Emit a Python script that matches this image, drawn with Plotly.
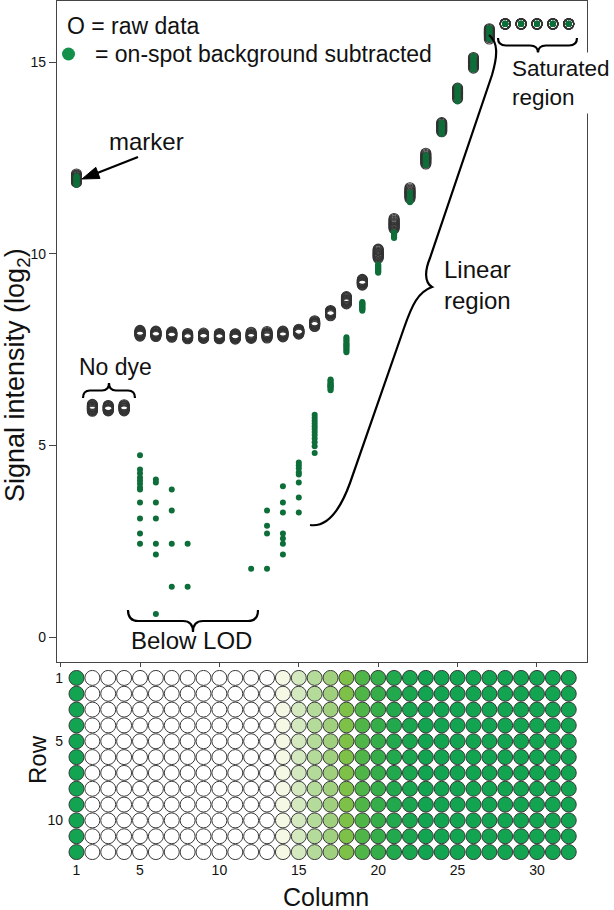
import plotly.graph_objects as go

W, H = 614, 910
FONT = "Liberation Sans, Arial, Helvetica, sans-serif"

columns = list(range(1, 33))
rows = list(range(1, 13))

# raw spot intensity (log2), one list of 12 replicate rows per column
raw_marker = [12.08, 12.05, 12.03, 12.01, 11.99, 11.97, 11.96, 11.94, 11.92, 11.9, 11.88, 11.86]
raw_no_dye = [
    [6.07, 6.05, 6.03, 6.01, 6.0, 5.99, 5.97, 5.96, 5.94, 5.93, 5.91, 5.89],
    [6.04, 6.03, 6.01, 6.0, 5.99, 5.98, 5.96, 5.95, 5.94, 5.92, 5.91, 5.9],
    [6.06, 6.04, 6.02, 6.01, 6.0, 5.98, 5.97, 5.96, 5.95, 5.93, 5.92, 5.9],
]
raw_below_lod = [  # columns 5-14
    [8.0, 7.98, 7.96, 7.95, 7.94, 7.93, 7.92, 7.91, 7.9, 7.89, 7.87, 7.85],
    [7.98, 7.96, 7.95, 7.94, 7.92, 7.91, 7.9, 7.89, 7.88, 7.87, 7.86, 7.84],
    [7.96, 7.94, 7.93, 7.92, 7.91, 7.9, 7.89, 7.88, 7.87, 7.85, 7.84, 7.82],
    [7.92, 7.9, 7.88, 7.87, 7.86, 7.85, 7.84, 7.83, 7.82, 7.81, 7.8, 7.78],
    [7.93, 7.91, 7.89, 7.88, 7.87, 7.86, 7.85, 7.84, 7.83, 7.82, 7.8, 7.79],
    [7.92, 7.9, 7.89, 7.87, 7.86, 7.85, 7.84, 7.83, 7.82, 7.81, 7.79, 7.78],
    [7.91, 7.9, 7.88, 7.87, 7.86, 7.85, 7.84, 7.83, 7.81, 7.8, 7.79, 7.77],
    [7.95, 7.93, 7.91, 7.89, 7.88, 7.87, 7.86, 7.85, 7.84, 7.82, 7.81, 7.79],
    [7.97, 7.94, 7.92, 7.91, 7.9, 7.89, 7.88, 7.87, 7.86, 7.84, 7.82, 7.8],
    [7.98, 7.96, 7.94, 7.93, 7.92, 7.91, 7.9, 7.89, 7.88, 7.87, 7.85, 7.83],
]
raw_linear = [  # columns 15-27
    [8.03, 8.01, 8.0, 7.99, 7.98, 7.97, 7.96, 7.95, 7.94, 7.93, 7.92, 7.9],
    [8.25, 8.23, 8.21, 8.2, 8.19, 8.18, 8.17, 8.16, 8.15, 8.14, 8.12, 8.1],
    [8.52, 8.5, 8.49, 8.48, 8.47, 8.46, 8.45, 8.44, 8.43, 8.42, 8.4, 8.38],
    [8.88, 8.86, 8.84, 8.82, 8.8, 8.79, 8.78, 8.76, 8.75, 8.73, 8.71, 8.69],
    [9.33, 9.31, 9.3, 9.28, 9.27, 9.26, 9.25, 9.24, 9.23, 9.21, 9.2, 9.18],
    [10.12, 10.1, 10.08, 10.05, 10.03, 10.01, 9.99, 9.97, 9.95, 9.93, 9.91, 9.88],
    [10.92, 10.89, 10.86, 10.84, 10.81, 10.79, 10.77, 10.75, 10.73, 10.7, 10.68, 10.65],
    [11.72, 11.69, 11.66, 11.63, 11.61, 11.59, 11.57, 11.55, 11.52, 11.5, 11.47, 11.44],
    [12.62, 12.59, 12.56, 12.53, 12.51, 12.49, 12.47, 12.45, 12.42, 12.4, 12.37, 12.34],
    [13.42, 13.4, 13.37, 13.35, 13.33, 13.31, 13.29, 13.27, 13.25, 13.23, 13.21, 13.18],
    [14.32, 14.29, 14.27, 14.24, 14.22, 14.2, 14.18, 14.16, 14.14, 14.11, 14.08, 14.05],
    [15.12, 15.09, 15.06, 15.03, 15.01, 14.99, 14.97, 14.95, 14.92, 14.9, 14.87, 14.84],
    [15.87, 15.85, 15.82, 15.8, 15.78, 15.76, 15.74, 15.72, 15.7, 15.67, 15.64, 15.6],
]
raw_saturated = [  # columns 28-32
    [16.0, 16.0, 16.0, 16.0, 16.0, 16.0, 15.99, 15.99, 15.99, 15.99, 15.99, 15.99],
    [16.0, 16.0, 16.0, 16.0, 16.0, 16.0, 15.99, 15.99, 15.99, 15.99, 15.99, 15.99],
    [16.0, 16.0, 16.0, 16.0, 16.0, 16.0, 15.99, 15.99, 15.99, 15.99, 15.99, 15.99],
    [16.0, 16.0, 16.0, 16.0, 16.0, 16.0, 15.99, 15.99, 15.99, 15.99, 15.99, 15.99],
    [16.0, 16.0, 16.0, 16.0, 16.0, 16.0, 15.99, 15.99, 15.99, 15.99, 15.99, 15.99],
]

# on-spot background subtracted (log2); non-positive values are not drawn
bg_marker = [12.02, 12.0, 11.98, 11.96, 11.94, 11.92, 11.9, 11.88, 11.86, 11.84, 11.82, 11.8]
bg_no_dye = [[], [], []]
bg_below_lod = [  # columns 5-14
    [4.74, 4.37, 4.27, 4.16, 4.08, 4.0, 3.9, 3.85, 3.51, 3.09, 2.7, 2.43],
    [4.11, 4.03, 3.51, 3.09, 2.43, 2.15, 0.6],
    [3.85, 3.3, 2.43, 1.31],
    [2.43, 1.31],
    [],
    [],
    [],
    [1.78],
    [3.3, 2.9, 2.7, 1.78],
    [3.93, 3.51, 3.25, 2.7, 2.57, 2.43, 2.15],
]
bg_linear = [  # columns 15-27
    [4.55, 4.48, 4.4, 4.3, 4.24, 4.03, 3.64, 3.25],
    [5.8, 5.72, 5.64, 5.57, 5.5, 5.43, 5.35, 5.27, 5.18, 5.08, 4.98, 4.8],
    [6.72, 6.69, 6.66, 6.63, 6.6, 6.58, 6.56, 6.54, 6.52, 6.5, 6.47, 6.44],
    [7.82, 7.78, 7.74, 7.7, 7.66, 7.63, 7.6, 7.57, 7.54, 7.5, 7.47, 7.43],
    [8.74, 8.72, 8.7, 8.68, 8.66, 8.64, 8.62, 8.6, 8.58, 8.56, 8.54, 8.51],
    [9.72, 9.7, 9.68, 9.66, 9.64, 9.62, 9.6, 9.58, 9.56, 9.54, 9.52, 9.5],
    [10.56, 10.55, 10.53, 10.52, 10.51, 10.5, 10.48, 10.47, 10.46, 10.45, 10.43, 10.41],
    [11.6, 11.57, 11.55, 11.53, 11.5, 11.48, 11.46, 11.44, 11.42, 11.4, 11.37, 11.34],
    [12.56, 12.54, 12.51, 12.49, 12.47, 12.45, 12.43, 12.41, 12.39, 12.37, 12.34, 12.31],
    [13.42, 13.39, 13.36, 13.33, 13.31, 13.29, 13.26, 13.24, 13.22, 13.19, 13.16, 13.12],
    [14.37, 14.33, 14.29, 14.25, 14.22, 14.19, 14.16, 14.13, 14.1, 14.06, 14.02, 13.97],
    [15.16, 15.12, 15.09, 15.06, 15.03, 15.0, 14.97, 14.94, 14.91, 14.88, 14.84, 14.8],
    [15.89, 15.86, 15.84, 15.81, 15.78, 15.76, 15.73, 15.71, 15.68, 15.66, 15.63, 15.6],
]
bg_saturated = [
    [16.0, 16.0, 16.0, 16.0, 16.0, 16.0, 15.99, 15.99, 15.99, 15.99, 15.99, 15.99],
    [16.0, 16.0, 16.0, 16.0, 16.0, 16.0, 15.99, 15.99, 15.99, 15.99, 15.99, 15.99],
    [16.0, 16.0, 16.0, 16.0, 16.0, 16.0, 15.99, 15.99, 15.99, 15.99, 15.99, 15.99],
    [16.0, 16.0, 16.0, 16.0, 16.0, 16.0, 15.99, 15.99, 15.99, 15.99, 15.99, 15.99],
    [16.0, 16.0, 16.0, 16.0, 16.0, 16.0, 15.99, 15.99, 15.99, 15.99, 15.99, 15.99],
]

# relative spot colour on the array image, per column (0 = blank, 1 = full green)
spot_level = [1.0, 0, 0, 0, 0, 0, 0, 0, 0, 0, 0, 0, 0, 0.06, 0.2, 0.32,
              0.42, 0.55, 0.7, 0.8, 0.9, 0.96, 1.0, 1.0, 1.0, 1.0, 1.0, 1.0,
              1.0, 1.0, 1.0, 1.0]

spot_scale = [[0, '#ffffff'], [0.06, '#f4f8e4'], [0.2, '#d4e9c0'], [0.32, '#b5db9b'],
              [0.42, '#a0d07e'], [0.55, '#7dc148'], [0.7, '#4fb548'], [0.8, '#35ae4a'],
              [0.9, '#22a84d'], [1.0, '#13a451']]

raw_by_col = [raw_marker] + raw_no_dye + raw_below_lod + raw_linear + raw_saturated
bg_by_col = [bg_marker] + bg_no_dye + bg_below_lod + bg_linear + bg_saturated


def flat(per_col):
    xs, ys = [], []
    for c, vals in zip(columns, per_col):
        xs += [c] * len(vals)
        ys += vals
    return xs, ys


def X(p):  # pixel -> paper
    return p / W


def Y(p):
    return 1 - p / H


def path(points, close=False):
    # points: list of (cmd, [(x, y), ...]) in pixels
    s = ''
    for cmd, pts in points:
        s += cmd + ' ' + ' '.join(f'{X(x):.5f},{Y(y):.5f}' for x, y in pts) + ' '
    return s.strip() + (' Z' if close else '')


def hbrace(x0, x1, y_end, y_tip, xm, r):
    mid = y_end + (y_tip - y_end) * 0.5
    return path([('M', [(x0, y_end)]), ('Q', [(x0, mid), (x0 + r, mid)]),
                 ('L', [(xm - r, mid)]), ('Q', [(xm, mid), (xm, y_tip)]),
                 ('Q', [(xm, mid), (xm + r, mid)]), ('L', [(x1 - r, mid)]),
                 ('Q', [(x1, mid), (x1, y_end)])])


fig = go.Figure()

rx, ry = flat(raw_by_col)
fig.add_trace(go.Scatter(x=rx, y=ry, mode='markers', xaxis='x', yaxis='y',
                         marker=dict(symbol='circle-open', size=10, color='#333333',
                                     line=dict(width=1.1, color='#333333'))))
gx, gy = flat(bg_by_col)
fig.add_trace(go.Scatter(x=gx, y=gy, mode='markers', xaxis='x', yaxis='y',
                         marker=dict(size=6, color='#0e6e39')))

sx, sy, sc = [], [], []
for r in rows:
    for c in columns:
        sx.append(c)
        sy.append(r)
        sc.append(spot_level[c - 1])
fig.add_trace(go.Scatter(x=sx, y=sy, mode='markers', xaxis='x2', yaxis='y2',
                         marker=dict(size=15, color=sc, colorscale=spot_scale, cmin=0, cmax=1,
                                     line=dict(width=1, color='#3a3a3a'))))

line_col = '#444444'
fig.update_layout(
    width=W, height=H, margin=dict(l=0, r=0, t=0, b=0),
    paper_bgcolor='white', plot_bgcolor='white', showlegend=False,
    font=dict(family=FONT, color='#111111'),
    xaxis=dict(domain=[X(57), X(587)], range=[-0.227, 33.15], anchor='y',
               showline=True, mirror=True, linecolor=line_col, linewidth=1.3,
               ticks='outside', ticklen=4, tickcolor=line_col, tickvals=[0, 5, 10, 15, 20, 25, 30],
               showticklabels=False, showgrid=False, zeroline=False),
    yaxis=dict(domain=[Y(662), Y(1)], range=[-0.652, 16.593], anchor='x',
               showline=True, mirror=True, linecolor=line_col, linewidth=1.3,
               ticks='outside', ticklen=7, tickcolor=line_col, tickvals=[0, 5, 10, 15],
               tickfont=dict(size=14), showgrid=False, zeroline=False),
    xaxis2=dict(domain=[X(64), X(587)], range=[0.214, 33.15], anchor='y2',
                showline=False, ticks='', tickvals=[1, 5, 10, 15, 20, 25, 30],
                tickfont=dict(size=14), showgrid=False, zeroline=False),
    yaxis2=dict(domain=[Y(860), Y(670)], range=[12.5, 0.5], anchor='x2',
                showline=False, ticks='', tickvals=[1, 5, 10],
                tickfont=dict(size=14), showgrid=False, zeroline=False),
)

shapes = [
    dict(type='path', path=hbrace(83, 135, 398, 383, 109, 7)),
    dict(type='path', path=hbrace(128, 258, 610, 632, 193, 10)),
    dict(type='path', path=hbrace(498, 577, 38, 53, 538, 8)),
    dict(type='path', path=path([('M', [(310, 525)]), ('C', [(330, 528), (342, 505), (350, 483)]),
                                 ('L', [(404, 328)]), ('C', [(412, 305), (418, 292), (432, 287)]),
                                 ('C', [(424, 282), (425, 270), (430, 258)]),
                                 ('L', [(492, 75)]), ('C', [(498, 55), (498, 42), (489, 35)])])),
    dict(type='line', x0=X(138), y0=Y(157), x1=X(96), y1=Y(173.5)),  # marker arrow shaft
]
for s in shapes:
    s.update(xref='paper', yref='paper', line=dict(color='black', width=2.2))
# marker arrow head
shapes.append(dict(type='path', xref='paper', yref='paper',
                   path=path([('M', [(82, 179)]), ('L', [(95.8, 167.3)]), ('L', [(100.0, 178.5)])],
                             close=True),
                   fillcolor='black', line=dict(color='black', width=1)))
shapes.append(dict(type='circle', xref='paper', yref='paper', x0=X(62), x1=X(75),
                   y0=Y(60.5), y1=Y(47.5), fillcolor='#13904a', line=dict(width=0)))
fig.update_layout(shapes=shapes)


def note(text, x, y, size=23, xanchor='center', **kw):
    fig.add_annotation(text=text, x=X(x), y=Y(y), xref='paper', yref='paper',
                       xanchor=xanchor, yanchor='middle', showarrow=False,
                       font=dict(size=size, family=FONT, color='#111111'), **kw)


note('O = raw data', 65, 26, xanchor='left')
note('= on-spot background subtracted', 93, 54, xanchor='left')
note('marker', 146, 141, size=24)
note('No dye', 115, 367)
note('Below LOD', 191, 640, size=24)
note('Saturated<br>region', 508, 83, size=22.5, xanchor='left', align='left',
     bgcolor='white', borderpad=3)
note('Linear<br>region', 442, 285, size=24, xanchor='left', align='left')
note('Row', 37, 760, size=24, textangle=-90)
note('Column', 326, 897, size=25)
note('Signal intensity (log<sub>2</sub>)', 17, 375, size=27, textangle=-90)

fig.write_html("out.html", config={'displayModeBar': False},
               post_script="document.body.style.margin='0px';document.body.style.overflow='hidden';")
